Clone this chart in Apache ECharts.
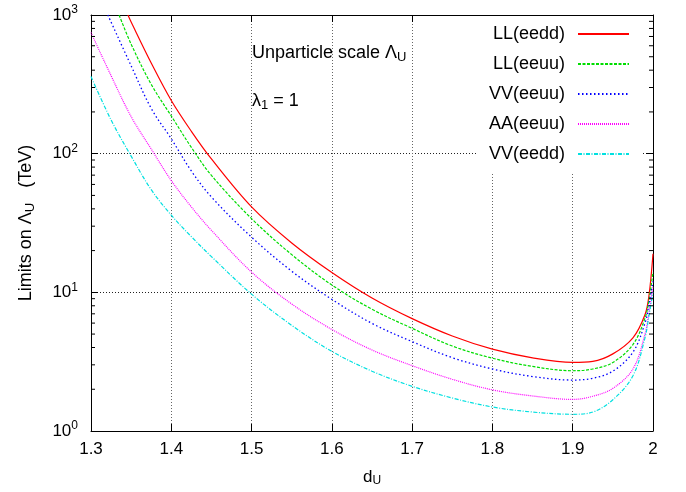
<!DOCTYPE html>
<html>
<head>
<meta charset="utf-8">
<script src="https://cdn.jsdelivr.net/npm/echarts@6/dist/echarts.min.js"></script>
<style>
  html, body { margin: 0; padding: 0; background: #fff; }
  #chart { width: 686px; height: 492px; }
</style>
</head>
<body>
<div id="chart"></div>
<script>
// values: [d_U, limit on Lambda_U in TeV]
const llEedd = [[1.346, 1000], [1.35, 890], [1.375, 451], [1.40, 242], [1.425, 145], [1.45, 91.6],
  [1.50, 41.3], [1.55, 22.7], [1.60, 13.9], [1.65, 9.1], [1.70, 6.46], [1.75, 4.84], [1.80, 3.89],
  [1.85, 3.37], [1.90, 3.13], [1.925, 3.18], [1.95, 3.6], [1.975, 4.7], [1.99, 6.9], [1.995, 9.5], [2.00, 19]];
const llEeuu = [[1.335, 1000], [1.35, 616], [1.375, 316], [1.40, 187], [1.425, 111], [1.45, 69.7],
  [1.50, 34], [1.55, 18.7], [1.60, 11.3], [1.65, 7.55], [1.70, 5.5], [1.75, 4.1], [1.80, 3.35],
  [1.85, 2.92], [1.90, 2.72], [1.925, 2.80], [1.95, 3.12], [1.975, 4.2], [1.99, 6.5], [1.995, 8.8], [2.00, 14]];
const vvEeuu = [[1.321, 1000], [1.35, 430], [1.375, 212], [1.40, 128], [1.425, 75], [1.45, 48.7],
  [1.50, 25], [1.55, 14.2], [1.60, 8.9], [1.65, 5.97], [1.70, 4.41], [1.75, 3.38], [1.80, 2.80],
  [1.85, 2.47], [1.90, 2.33], [1.925, 2.40], [1.95, 2.70], [1.975, 3.7], [1.99, 6.0], [1.995, 8.2], [2.00, 12]];
const aaEeuu = [[1.30, 747], [1.325, 365], [1.35, 185], [1.375, 108], [1.40, 64], [1.425, 41.3],
  [1.45, 28], [1.50, 14], [1.55, 8.24], [1.60, 5.4], [1.65, 3.84], [1.70, 2.96], [1.75, 2.36],
  [1.80, 1.98], [1.85, 1.79], [1.90, 1.69], [1.925, 1.78], [1.95, 2.03], [1.975, 2.8], [1.99, 5.0], [1.995, 7.2], [2.00, 11]];
const vvEedd = [[1.30, 360], [1.325, 175], [1.35, 96], [1.375, 55], [1.40, 36], [1.425, 25.2],
  [1.45, 18.1], [1.50, 9.7], [1.55, 5.78], [1.60, 3.75], [1.65, 2.70], [1.70, 2.10], [1.75, 1.73],
  [1.80, 1.49], [1.85, 1.37], [1.90, 1.32], [1.925, 1.37], [1.95, 1.68], [1.975, 2.5], [1.99, 4.7], [1.995, 6.8], [2.00, 10]];

const seriesNames = ['LL(eedd)', 'LL(eeuu)', 'VV(eeuu)', 'AA(eeuu)', 'VV(eedd)'];
const xMin = 1.3, xMax = 2.0;
const yMin = 1, yMax = 1000;
// log minor ticks 2..9 of each decade
const minorTicks = [2, 3, 4, 5, 6, 7, 8, 9, 20, 30, 40, 50, 60, 70, 80, 90,
  200, 300, 400, 500, 600, 700, 800, 900];

const FONT = '"Liberation Sans", Arial, Helvetica, sans-serif';

const styles = [
  { color: '#ff0000', type: 'solid', width: 1.2 },
  { color: '#00dd00', type: [3, 1.5], width: 1.2 },
  { color: '#0000ff', type: [1.5, 2.5], width: 1.3 },
  { color: '#ff00ff', type: [1, 1], width: 1.2 },
  { color: '#00e0e0', type: [4, 1.5, 1, 1.5], width: 1.2 }
];
const seriesData = [llEedd, llEeuu, vvEeuu, aaEeuu, vvEedd];

const chart = echarts.init(document.getElementById('chart'), null, { renderer: 'canvas' });

const lineSeries = seriesData.map((d, i) => ({
  name: seriesNames[i],
  type: 'line',
  data: d,
  symbol: 'none',
  smooth: 0.35,
  clip: true,
  lineStyle: styles[i],
  itemStyle: { color: styles[i].color },
  z: 3
}));

const sideTicks = {
  type: 'custom',
  coordinateSystem: 'cartesian2d',
  silent: true,
  data: minorTicks.map(v => [xMin, v]),
  renderItem: (params, api) => {
    const v = api.value(1);
    const l = api.coord([xMin, v]);
    const r = api.coord([xMax, v]);
    const st = { stroke: '#000', lineWidth: 1 };
    return {
      type: 'group',
      children: [
        { type: 'line', shape: { x1: l[0], y1: l[1], x2: l[0] + 4, y2: l[1] }, style: st },
        { type: 'line', shape: { x1: r[0] - 4, y1: r[1], x2: r[0], y2: r[1] }, style: st }
      ]
    };
  },
  z: 4
};

const option = {
  backgroundColor: '#fff',
  animation: false,
  textStyle: { fontFamily: FONT, color: '#000' },
  grid: { left: 91, right: 33, top: 15, bottom: 58 },
  legend: {
    data: seriesNames,
    orient: 'vertical',
    align: 'right',
    right: 44,
    top: 16,
    itemWidth: 51,
    itemHeight: 14,
    itemGap: 12,
    padding: [9, 12, 9, 12],
    backgroundColor: '#fff',
    itemStyle: { color: 'rgba(0,0,0,0)', borderColor: 'rgba(0,0,0,0)', borderWidth: 0 },
    textStyle: { fontFamily: FONT, fontSize: 18, color: '#000', padding: [0, 8, 0, 0] }
  },
  xAxis: [
    {
      type: 'value', min: xMin, max: xMax, interval: 0.1,
      name: '{d|d}{u|U}', nameLocation: 'middle', nameGap: 36,
      nameTextStyle: {
        rich: {
          d: { fontFamily: FONT, fontSize: 17, lineHeight: 20, color: '#000' },
          u: { fontFamily: FONT, fontSize: 12, lineHeight: 10, verticalAlign: 'bottom', color: '#000' }
        }
      },
      axisLine: { show: true, lineStyle: { color: '#000', width: 1 } },
      axisTick: { show: true, inside: true, length: 7, lineStyle: { color: '#000' } },
      axisLabel: { fontFamily: FONT, fontSize: 17, color: '#000', margin: 10 },
      splitLine: { show: true, lineStyle: { color: '#666', type: [1, 2], width: 1 } }
    },
    {
      type: 'value', min: xMin, max: xMax, interval: 0.1, position: 'top',
      axisLine: { show: true, lineStyle: { color: '#000', width: 1 } },
      axisTick: { show: true, inside: true, length: 7, lineStyle: { color: '#000' } },
      axisLabel: { show: false },
      splitLine: { show: false }
    }
  ],
  yAxis: [
    {
      type: 'log', logBase: 10, min: yMin, max: yMax,
      name: '{t|Limits on Λ}{u|U}{t|   (TeV)}', nameLocation: 'middle', nameGap: 54, nameRotate: 90,
      nameTextStyle: {
        rich: {
          t: { fontFamily: FONT, fontSize: 18, lineHeight: 22, color: '#000' },
          u: { fontFamily: FONT, fontSize: 13, lineHeight: 12, verticalAlign: 'bottom', color: '#000' }
        }
      },
      axisLine: { show: true, lineStyle: { color: '#000', width: 1 } },
      axisTick: { show: true, inside: true, length: 7, lineStyle: { color: '#000' } },
      axisLabel: {
        margin: 13,
        formatter: v => '{b|10}{s|' + Math.round(Math.log10(v)) + '}',
        rich: {
          b: { fontFamily: FONT, fontSize: 17, lineHeight: 22, color: '#000' },
          s: { fontFamily: FONT, fontSize: 12, lineHeight: 10, verticalAlign: 'top', color: '#000' }
        }
      },
      splitLine: { show: true, lineStyle: { color: '#222', type: [1, 2], width: 1 } }
    },
    {
      type: 'log', logBase: 10, min: yMin, max: yMax, position: 'right',
      axisLine: { show: true, lineStyle: { color: '#000', width: 1 } },
      axisTick: { show: true, inside: true, length: 7, lineStyle: { color: '#000' } },
      axisLabel: { show: false },
      splitLine: { show: false }
    }
  ],
  graphic: [
    {
      type: 'text', left: 252, top: 44, silent: true,
      style: {
        text: '{a|Unparticle scale Λ}{b|U}',
        rich: {
          a: { fontFamily: FONT, fontSize: 18, lineHeight: 22, fill: '#000' },
          b: { fontFamily: FONT, fontSize: 13, lineHeight: 12, verticalAlign: 'bottom', fill: '#000' }
        }
      }
    },
    {
      type: 'text', left: 252, top: 92, silent: true,
      style: {
        text: '{a|λ}{b|1}{a| = 1}',
        rich: {
          a: { fontFamily: FONT, fontSize: 18, lineHeight: 22, fill: '#000' },
          b: { fontFamily: FONT, fontSize: 13, lineHeight: 12, verticalAlign: 'bottom', fill: '#000' }
        }
      }
    }
  ],
  series: [...lineSeries, sideTicks]
};

chart.setOption(option);
</script>
</body>
</html>
